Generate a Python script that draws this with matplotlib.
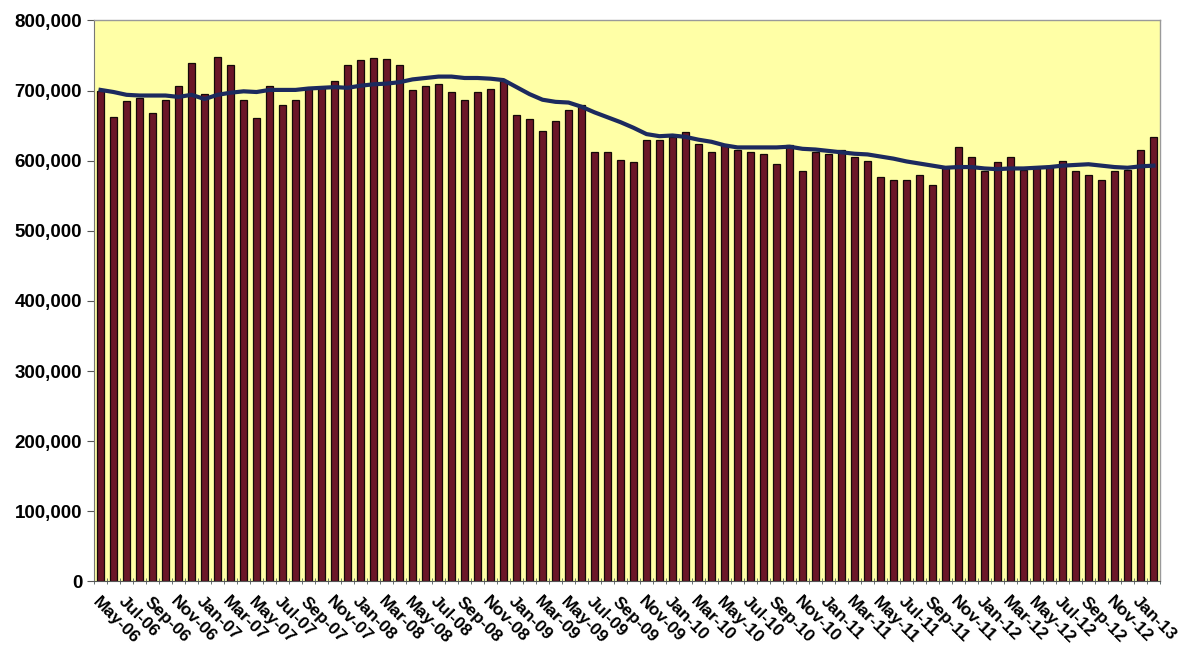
import numpy as np
import matplotlib.pyplot as plt
from matplotlib.ticker import FuncFormatter, FixedLocator

plt.rcParams['font.family'] = ['Liberation Sans', 'DejaVu Sans']

# Monthly series, May-06 .. Feb-13
months = ['Jan', 'Feb', 'Mar', 'Apr', 'May', 'Jun',
          'Jul', 'Aug', 'Sep', 'Oct', 'Nov', 'Dec']
labels = []
for k in range(82):
    m = (4 + k) % 12
    y = 6 + (4 + k) // 12
    labels.append(f"{months[m]}-{y:02d}")

valores = [
    700000, 663000, 685000, 689000, 668000, 686000, 707000, 739000, 695000, 748000,
    736000, 687000, 661000, 706000, 680000, 687000, 704000, 705000, 713000, 736000,
    743000, 747000, 745000, 737000, 701000, 706000, 710000, 698000, 687000, 698000,
    702000, 714000, 665000, 660000, 643000, 656000, 673000, 679000, 613000, 612000,
    601000, 598000, 630000, 629000, 634000, 641000, 624000, 612000, 622000, 616000,
    612000, 610000, 595000, 622000, 585000, 612000, 609000, 615000, 606000, 600000,
    577000, 572000, 573000, 579000, 566000, 589000, 619000, 605000, 586000, 598000,
    605000, 587000, 589000, 593000, 600000, 585000, 580000, 572000, 585000, 587000,
    615000, 634000,
]

tendencia = [
    701000, 698000, 694000, 693000, 693000, 693000, 691000, 694000, 688000, 694000,
    697000, 699000, 698000, 701000, 701000, 701000, 703000, 704000, 705000, 704000,
    707000, 709000, 710000, 712000, 716000, 718000, 720000, 720000, 718000, 718000,
    717000, 715000, 705000, 695000, 687000, 684000, 683000, 677000, 669000, 662000,
    655000, 647000, 638000, 635000, 636000, 634000, 630000, 627000, 622000, 619000,
    619000, 619000, 619000, 620000, 617000, 616000, 614000, 612000, 610000, 609000,
    606000, 603000, 599000, 596000, 593000, 590000, 591000, 591000, 589000, 588000,
    589000, 589000, 590000, 591000, 593000, 594000, 595000, 593000, 591000, 590000,
    592000, 593000,
]

x = np.arange(len(valores))

fig = plt.figure(figsize=(11.95, 6.61), dpi=100)
ax = fig.add_axes([0.0787, 0.1203, 0.892, 0.8487])
ax.set_facecolor('#FFFFA6')

ax.bar(x, valores, width=0.55, color='#6B1628', edgecolor='#140808', linewidth=0.9, zorder=2)
ax.plot(x, tendencia, color='#1C2A5E', linewidth=3.0, zorder=3)

ax.set_xlim(-0.5, len(valores) - 0.5)
ax.set_ylim(0, 800000)
ax.set_yticks(np.arange(0, 800001, 100000))
ax.yaxis.set_major_formatter(FuncFormatter(lambda v, p: f"{v:,.0f}"))

# labels every second month, tick marks between categories
ax.set_xticks(x[::2])
ax.set_xticklabels(labels[::2], rotation=-45, ha='left', va='top',
                   rotation_mode='anchor', fontsize=12.5, fontweight='bold')
ax.xaxis.set_minor_locator(FixedLocator(np.arange(-0.5, len(valores), 1)))
ax.tick_params(axis='x', which='major', length=0, pad=9)
ax.tick_params(axis='x', which='minor', length=5, color='#4a5a5a', direction='inout')
ax.tick_params(axis='y', length=5, color='#555555', labelsize=13.5)
for lab in ax.get_yticklabels():
    lab.set_fontweight('bold')

for s in ['top', 'right']:
    ax.spines[s].set_color('#9a9a9a')
    ax.spines[s].set_linewidth(1.0)
ax.spines['left'].set_color('#777777')
ax.spines['bottom'].set_color('#555555')

plt.savefig('out.png', dpi=100)
